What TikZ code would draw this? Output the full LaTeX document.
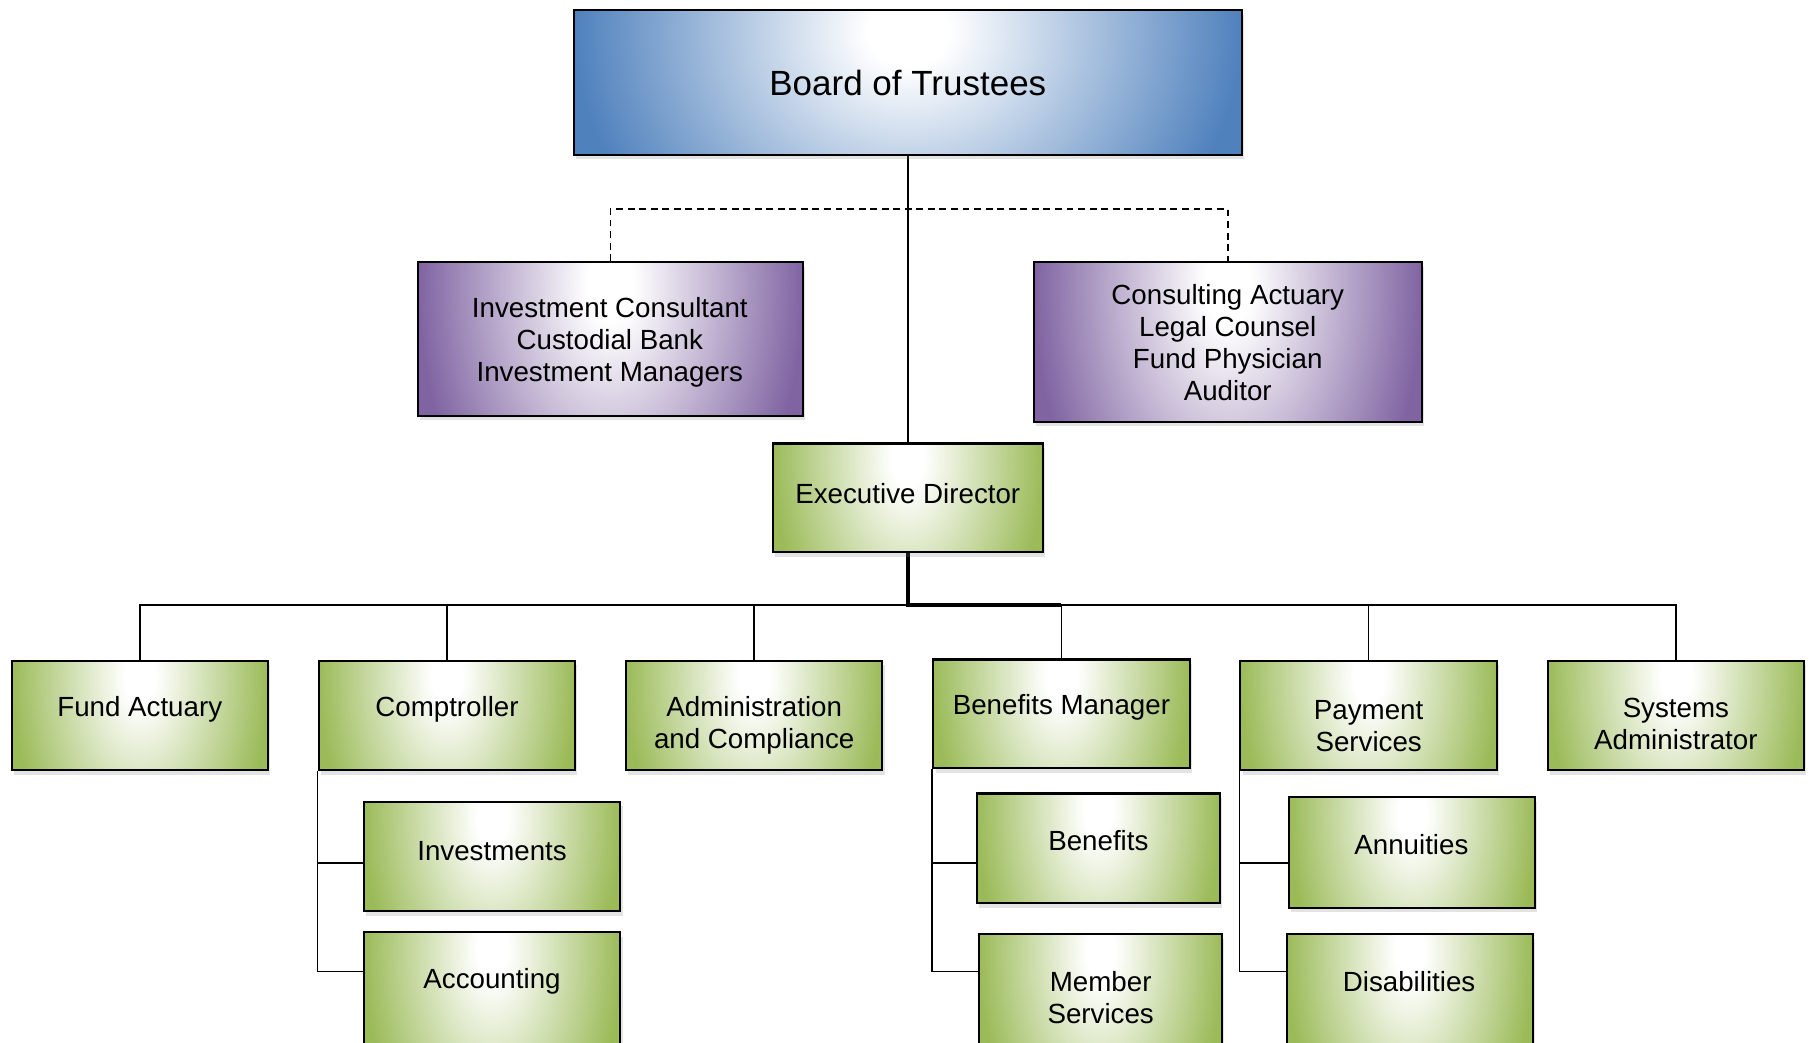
\documentclass[tikz,border=0pt]{standalone}
\usepackage{fontspec}
\setmainfont{Liberation Sans}
\usetikzlibrary{calc,shadows}

\definecolor{blueedge}{HTML}{4F81BD}
\definecolor{purpleedge}{HTML}{8064A2}
\definecolor{greenedge}{HTML}{9BBB59}

% soft glow: white near the top centre, edge colour towards the sides
\pgfdeclareradialshading{blueglow}{\pgfpointorigin}{color(0bp)=(white); color(3bp)=(white); color(25bp)=(blueedge); color(50bp)=(blueedge)}
\pgfdeclareradialshading{purpleglow}{\pgfpointorigin}{color(0bp)=(white); color(3bp)=(white); color(25bp)=(purpleedge); color(50bp)=(purpleedge)}
\pgfdeclareradialshading{greenglow}{\pgfpointorigin}{color(0bp)=(white); color(3bp)=(white); color(25bp)=(greenedge); color(50bp)=(greenedge)}

\pgfdeclarelayer{bg}
\pgfsetlayers{bg,main}

\tikzset{
  glow/.style={path picture={
      \shade[shading=#1] let \p1=(path picture bounding box.north west),
        \p2=(path picture bounding box.south east) in
        (\x1,{\y1+1.85*(\y1-\y2)}) rectangle (\x2,{\y2-1.15*(\y1-\y2)});}},
  box/.style={draw=black, line width=1.8pt, inner sep=0pt,
      drop shadow={opacity=0.22, shadow xshift=2pt, shadow yshift=-4pt}},
  bluebox/.style={box, glow=blueglow},
  purplebox/.style={box, glow=purpleglow},
  greenbox/.style={box, glow=greenglow},
  txt/.style={font=\fontsize{24}{27.7}\selectfont, align=center, inner sep=0pt},
  bigtxt/.style={font=\fontsize{30.3}{36}\selectfont, align=center, inner sep=0pt},
  conn/.style={draw=black, line width=1.3pt},
  heavy/.style={draw=black, line width=3pt},
  dashline/.style={draw=black, line width=1.3pt, dash pattern=on 6pt off 4pt},
}

\begin{document}
\begin{tikzpicture}[x=1pt, y=-1pt]
\useasboundingbox (0,0) rectangle (1568,903);

% top level
\node[bluebox, minimum width=578pt, minimum height=125pt] (board) at (786,71.5) {};
\node[bigtxt] (board-t) at (786,72) {Board of Trustees};

% outside advisers
\node[purplebox, minimum width=333pt, minimum height=133pt] (ic) at (528.5,293.5) {};
\node[txt] (ic-t) at (528,296.5) {Investment Consultant\\Custodial Bank\\Investment Managers};
\node[purplebox, minimum width=336pt, minimum height=138pt] (ca) at (1063,296) {};
\node[txt] (ca-t) at (1063,296.5) {Consulting Actuary\\Legal Counsel\\Fund Physician\\Auditor};

% executive
\node[greenbox, minimum width=234pt, minimum height=94pt] (ed) at (786,431) {};
\node[txt] (ed-t) at (786,427) {Executive Director};

% departments
\node[greenbox, minimum width=222pt, minimum height=95pt] (fa) at (121,619.5) {};
\node[txt] (fa-t) at (121,614) {Fund Actuary};
\node[greenbox, minimum width=222pt, minimum height=95pt] (co) at (387,619.5) {};
\node[txt] (co-t) at (387,614) {Comptroller};
\node[greenbox, minimum width=222pt, minimum height=95pt] (ac) at (653,619.5) {};
\node[txt] (ac-t) at (653,628) {Administration\\and Compliance};
\node[greenbox, minimum width=222pt, minimum height=94pt] (bm) at (919,618) {};
\node[txt] (bm-t) at (919,612) {Benefits Manager};
\node[greenbox, minimum width=222pt, minimum height=95pt] (ps) at (1185,619.5) {};
\node[txt] (ps-t) at (1185,629) {Payment\\Services};
\node[greenbox, minimum width=222pt, minimum height=95pt] (sa) at (1451,619.5) {};
\node[txt] (sa-t) at (1451,626.5) {Systems\\Administrator};

% sections
\node[greenbox, minimum width=222pt, minimum height=95pt] (inv) at (426,741.5) {};
\node[txt] (inv-t) at (426,737) {Investments};
\node[greenbox, minimum width=222pt, minimum height=103pt] (acc) at (426,858.5) {};
\node[txt] (acc-t) at (426,850) {Accounting};
\node[greenbox, minimum width=210pt, minimum height=95pt] (ben) at (951,734.5) {};
\node[txt] (ben-t) at (951,727.5) {Benefits};
\node[greenbox, minimum width=210pt, minimum height=101pt] (ms) at (953,859.5) {};
\node[txt] (ms-t) at (953,863.5) {Member\\Services};
\node[greenbox, minimum width=213pt, minimum height=96pt] (ann) at (1222.5,738) {};
\node[txt] (ann-t) at (1222,731.5) {Annuities};
\node[greenbox, minimum width=213pt, minimum height=101pt] (dis) at (1220.5,859.5) {};
\node[txt] (dis-t) at (1220,849.5) {Disabilities};

% connector rails
\coordinate (dashrail) at (0,181);
\coordinate (bus) at (786,524);
\coordinate (row1) at (0,747);
\coordinate (row2) at (0,841);

\begin{pgfonlayer}{bg}
  \draw[conn] (board.south) -- (ed.north);
  \draw[dashline] (ic.north) -- (ic.north |- dashrail) -- (ca.north |- dashrail) -- (ca.north);
  \draw[conn] (fa.north) -- (fa.north |- bus) -- (sa.north |- bus) -- (sa.north);
  \draw[conn] (co.north) -- (co.north |- bus);
  \draw[conn] (ac.north) -- (ac.north |- bus);
  \draw[conn] (bm.north) -- (bm.north |- bus);
  \draw[conn] (ps.north) -- (ps.north |- bus);
  \draw[heavy] (ed.south) -- (ed.south |- bus) -- (bm.north |- bus);
  \draw[conn] (co.south west) |- (inv.west |- row1);
  \draw[conn] (co.south west) |- (acc.west |- row2);
  \draw[conn] (bm.south west) |- (ben.west |- row1);
  \draw[conn] (bm.south west) |- (ms.west |- row2);
  \draw[conn] (ps.south west) |- (ann.west |- row1);
  \draw[conn] (ps.south west) |- (dis.west |- row2);
\end{pgfonlayer}
\end{tikzpicture}
\end{document}
